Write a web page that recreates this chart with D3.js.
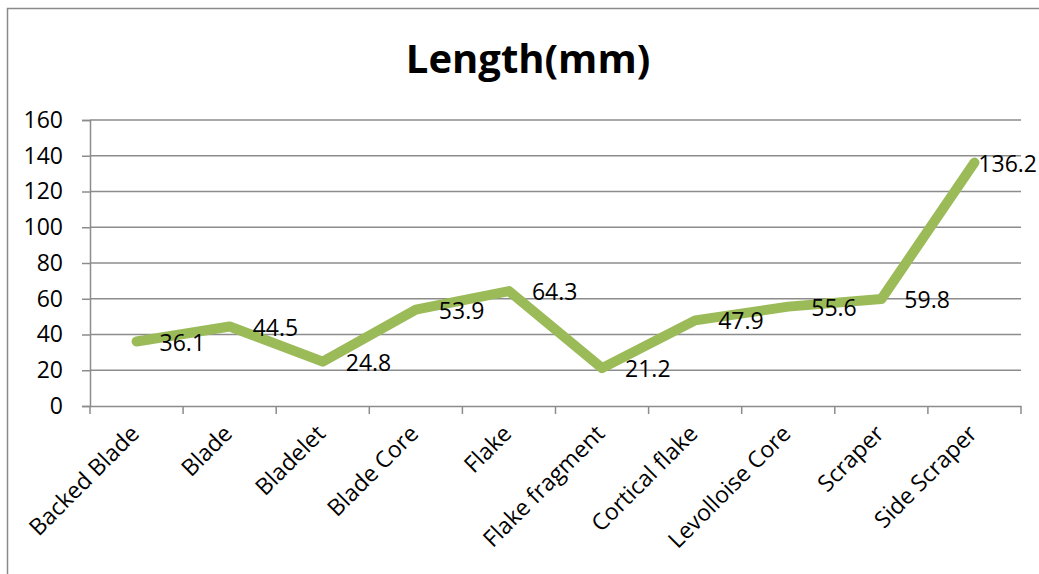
<!DOCTYPE html>
<html><head><meta charset="utf-8">
<script src="https://cdn.jsdelivr.net/npm/d3@7"></script>
<style>body{margin:0;background:#fff;}svg{display:block;font-family:"Open Sans",sans-serif;}</style>
</head><body>
<svg id="c" width="1039" height="574"></svg>
<script>
const categories = ["Backed Blade","Blade","Bladelet","Blade Core","Flake","Flake fragment","Cortical flake","Levolloise Core","Scraper","Side Scraper"];
const lengths = [36.1,44.5,24.8,53.9,64.3,21.2,47.9,55.6,59.8,136.2];
const yTicks = [0,20,40,60,80,100,120,140,160];
const title = "Length(mm)";

const svg = d3.select("#c");
const m = {left:90, right:1021, top:120, bottom:406};
const grid = "#8c8c8c";
const fs = 23;

svg.append("rect").attr("x",7.5).attr("y",8.5).attr("width",1045).attr("height",580)
  .attr("fill","#fff").attr("stroke","#8a8a8a").attr("stroke-width",1.5);

const x = d3.scaleBand().domain(categories).range([m.left,m.right]);
const y = d3.scaleLinear().domain([0,160]).range([m.bottom,m.top]);

// gridlines
svg.append("g").selectAll("line").data(yTicks.filter(d=>d>0)).join("line")
  .attr("x1",m.left).attr("x2",m.right).attr("y1",d=>y(d)).attr("y2",d=>y(d))
  .attr("stroke",grid).attr("stroke-width",1.5);

// y axis
const ya = svg.append("g").attr("transform",`translate(${m.left},0)`)
  .call(d3.axisLeft(y).tickValues(yTicks).tickSize(8).tickPadding(19).tickFormat(d3.format("d")));
ya.select(".domain").attr("stroke",grid).attr("stroke-width",1.5);
ya.selectAll(".tick line").attr("stroke",grid).attr("stroke-width",1.5);
ya.selectAll("text").attr("font-size",fs).attr("font-family","Open Sans").attr("fill","#000");

// x axis
const xa = svg.append("g").attr("transform",`translate(0,${m.bottom})`)
  .call(d3.axisBottom(x).tickSize(0).tickFormat(""));
xa.select(".domain").attr("stroke",grid).attr("stroke-width",1.5);
const bounds = categories.map(c=>x(c)).concat([m.right]);
svg.append("g").selectAll("line").data(bounds).join("line")
  .attr("x1",d=>d).attr("x2",d=>d).attr("y1",m.bottom).attr("y2",m.bottom+8)
  .attr("stroke",grid).attr("stroke-width",1.5);
svg.append("g").selectAll("text").data(categories).join("text")
  .attr("transform",d=>`translate(${x(d)+x.bandwidth()/2+4},${m.bottom+29}) rotate(-45)`)
  .attr("text-anchor","end").attr("font-size",fs).attr("fill","#000").text(d=>d);

// line
const pts = categories.map((c,i)=>({c, v:lengths[i]}));
const line = d3.line().x(d=>x(d.c)+x.bandwidth()/2).y(d=>y(d.v));
svg.append("path").datum(pts).attr("d",line).attr("fill","none")
  .attr("stroke","#9BBB59").attr("stroke-width",10)
  .attr("stroke-linejoin","round").attr("stroke-linecap","round");

// labels
svg.append("g").selectAll("text").data(pts).join("text")
  .attr("font-size",fs).attr("fill","#000").attr("dy","0.35em")
  .attr("y",d=>y(d.v)+1)
  .text(d=>d.v.toFixed(1))
  .each(function(d){
    const w = this.getComputedTextLength();
    const px = x(d.c)+x.bandwidth()/2+23;
    d3.select(this).attr("x", Math.min(px, 1037-w));
  });

// title
svg.append("text").attr("x",528).attr("y",73).attr("text-anchor","middle")
  .attr("font-size",40).attr("font-weight","bold").attr("fill","#000").text(title);
</script>
</body></html>
